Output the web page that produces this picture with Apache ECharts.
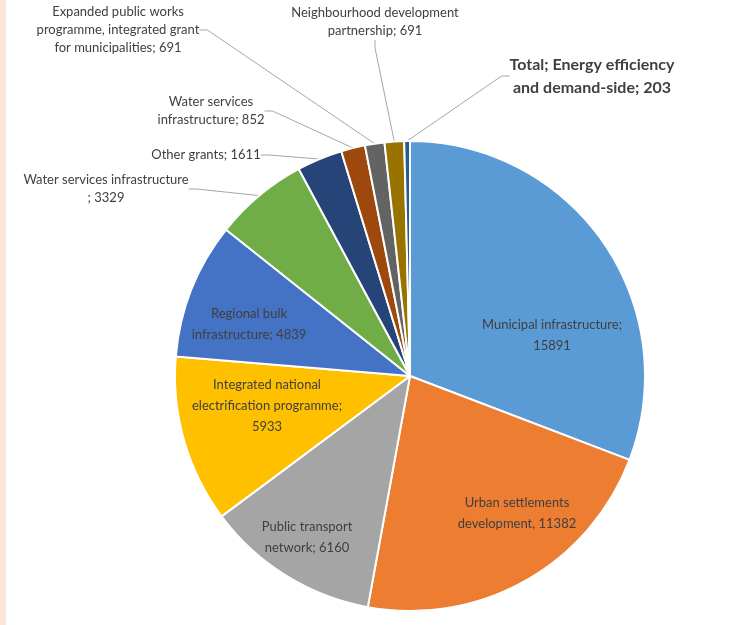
<!DOCTYPE html>
<html>
<head>
<meta charset="utf-8">
<script src="https://cdn.jsdelivr.net/npm/echarts@6/dist/echarts.min.js"></script>
<style>
  html, body { margin: 0; padding: 0; background: #fff; }
  #strip { position: absolute; left: 0; top: 0; width: 6px; height: 625px; background: #fbe5d8; }
  #box { position: absolute; left: 0; top: 0; width: 736px; height: 625px; }
</style>
</head>
<body>
<div id="strip"></div>
<div id="box"></div>
<script>
// grant names, clockwise from 12 o'clock
const categories = [
    'Municipal infrastructure',
    'Urban settlements development',
    'Public transport network',
    'Integrated national electrification programme',
    'Regional bulk infrastructure',
    'Water services infrastructure',
    'Other grants',
    'Water services infrastructure ',
    'Expanded public works programme, integrated grant for municipalities',
    'Neighbourhood development partnership',
    'Energy efficiency and demand-side'
];
const values = [15891, 11382, 6160, 5933, 4839, 3329, 1611, 852, 691, 691, 203];
// label text as printed on the chart ({c} = value)
const labelText = [
    'Municipal infrastructure;\n{c}',
    'Urban settlements\ndevelopment, {c}',
    'Public transport\nnetwork; {c}',
    'Integrated national\nelectrification programme;\n{c}',
    'Regional bulk\ninfrastructure; {c}',
    'Water services infrastructure\n; {c}',
    'Other grants; {c}',
    'Water services\ninfrastructure; {c}',
    'Expanded public works\nprogramme, integrated grant\nfor municipalities; {c}',
    'Neighbourhood development\npartnership; {c}',
    'Total; Energy efficiency\nand demand-side; {c}'
];

const colors = ['#5b9bd5', '#ed7d31', '#a5a5a5', '#ffc000', '#4472c4', '#70ad47',
    '#264478', '#9e480e', '#636363', '#997300', '#255e91'];
// label centres (px) and whether a leader line is drawn
const labelPos = [
    [552, 335], [517, 513], [307, 537], [267, 406], [249, 324],
    [106, 189], [206, 155], [211, 111], [118, 30], [375, 22], [592, 76]
];
const outside = [false, false, false, false, false, true, true, true, true, true, true];

const chart = echarts.init(document.getElementById('box'));

const data = values.map((v, i) => ({
    name: categories[i],
    value: v,
    itemStyle: { color: colors[i] },
    label: {
        formatter: labelText[i],
        position: outside[i] ? 'outside' : 'inside',
        fontWeight: i === 10 ? 'bold' : 'normal',
        fontSize: i === 10 ? 16 : 13,
        lineHeight: i === 10 ? 23 : (outside[i] ? 18 : 21)
    },
    labelLine: { show: outside[i] }
}));

chart.setOption({
    animation: false,
    series: [
        {
            type: 'pie',
            center: [410, 376],
            radius: 235,
            startAngle: 90,
            clockwise: true,
            avoidLabelOverlap: false,
            itemStyle: {
                borderColor: '#ffffff',
                borderWidth: 2
            },
            label: {
                color: '#404040',
                fontFamily: 'Lato',
                align: 'center'
            },
            labelLine: {
                length: 10,
                length2: 8,
                lineStyle: { color: '#a6a6a6', width: 1 }
            },
            emphasis: { disabled: true },
            labelLayout: function (params) {
                const p = labelPos[params.dataIndex];
                return {
                    x: p[0],
                    y: p[1],
                    align: 'center',
                    verticalAlign: 'middle'
                };
            },
            data: data
        }
    ]
});
</script>
</body>
</html>
